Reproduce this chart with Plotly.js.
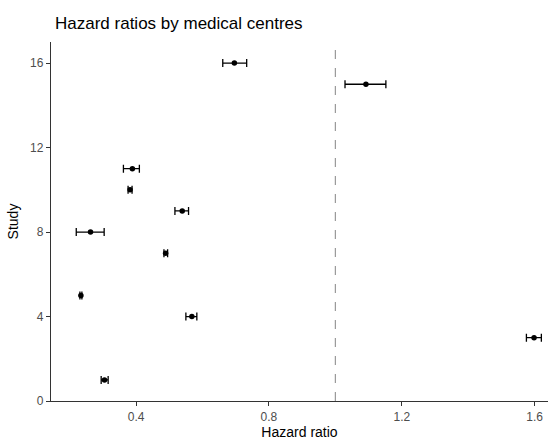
<!DOCTYPE html>
<html>
<head>
<meta charset="utf-8">
<script src="https://cdn.plot.ly/plotly-3.0.1.min.js"></script>
<style>html,body{margin:0;padding:0;background:#fff}#chart{width:556px;height:441px}</style>
</head>
<body>
<div id="chart"></div>
<script>
const studies = [16, 15, 11, 10, 9, 8, 7, 5, 4, 3, 1];
const hazardRatio = [0.696, 1.092, 0.389, 0.382, 0.539, 0.263, 0.489, 0.234, 0.568, 1.598, 0.305];
const lowerCI = [0.661, 1.029, 0.362, 0.376, 0.517, 0.220, 0.484, 0.231, 0.550, 1.575, 0.295];
const upperCI = [0.733, 1.152, 0.410, 0.388, 0.558, 0.304, 0.495, 0.237, 0.583, 1.620, 0.316];
const xTicks = [0.4, 0.8, 1.2, 1.6];
const yTicks = [0, 4, 8, 12, 16];
const chartTitle = 'Hazard ratios by medical centres';

const plus = upperCI.map((u, i) => u - hazardRatio[i]);
const minus = lowerCI.map((l, i) => hazardRatio[i] - l);

const trace = {
  type: 'scatter', mode: 'markers',
  x: hazardRatio, y: studies,
  marker: {color: '#000', size: 5.5},
  error_x: {type: 'data', symmetric: false, array: plus, arrayminus: minus,
            color: '#000', thickness: 1.3, width: 4},
  hoverinfo: 'x+y'
};

const axisCommon = {
  showgrid: false, zeroline: false, showline: true, linecolor: '#333', linewidth: 1.2,
  ticks: 'outside', ticklen: 4, tickcolor: '#333', tickwidth: 1,
  tickfont: {family: 'Liberation Sans, Arial, sans-serif', size: 12, color: '#4d4d4d'},
  mirror: false
};

const layout = {
  width: 556, height: 441,
  margin: {l: 51, r: 8, t: 42, b: 40},
  paper_bgcolor: '#fff', plot_bgcolor: '#fff',
  showlegend: false,
  annotations: [{text: chartTitle, xref: 'paper', yref: 'paper', x: 0, y: 1,
                 xanchor: 'left', yanchor: 'middle', xshift: 2, yshift: 18.5,
                 showarrow: false,
                 font: {family: 'Liberation Sans, Arial, sans-serif', size: 17, color: '#000'}}],
  xaxis: Object.assign({}, axisCommon, {
    range: [0.144, 1.64], tickvals: xTicks, ticktext: xTicks.map(v => v.toFixed(1)),
    title: {text: 'Hazard ratio', standoff: 4,
            font: {family: 'Liberation Sans, Arial, sans-serif', size: 14, color: '#000'}}
  }),
  yaxis: Object.assign({}, axisCommon, {
    range: [0, 17], tickvals: yTicks, ticktext: yTicks.map(String),
    title: {text: 'Study', standoff: 8,
            font: {family: 'Liberation Sans, Arial, sans-serif', size: 14, color: '#000'}}
  }),
  shapes: [{type: 'line', xref: 'x', yref: 'paper', x0: 1, x1: 1, y0: 0, y1: 1,
            line: {color: '#999', width: 1.2, dash: 'dash'}}]
};

Plotly.newPlot('chart', [trace], layout, {displayModeBar: false, staticPlot: true});
</script>
</body>
</html>
